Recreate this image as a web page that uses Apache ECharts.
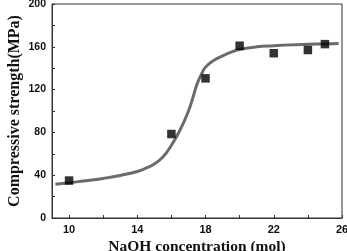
<!DOCTYPE html>
<html>
<head>
<meta charset="utf-8">
<script src="https://cdn.jsdelivr.net/npm/echarts@6/dist/echarts.min.js"></script>
<style>html,body{margin:0;padding:0;background:#fff}#c{width:347px;height:251px}</style>
</head>
<body>
<div id="c"></div>
<script>
var naohMol = [10, 16, 18, 20, 22, 24, 25];
var strength = [35, 78.5, 130.5, 161, 154, 157, 162.5];
var fitX = [9.2, 10, 11, 12, 13, 14, 14.5, 15, 15.5, 16, 16.5, 17, 17.25, 17.5, 17.75, 18, 18.5, 19, 19.5, 20, 21, 22, 23, 24, 25, 25.8];
var fitY = [31.5, 33, 34.8, 37, 39.8, 43.5, 46.5, 50.5, 57, 68, 82, 100, 112, 125, 134, 141, 147.5, 151.5, 155, 157.5, 160, 161, 161.8, 162.3, 162.7, 163];
var xLabelTicks = [10, 14, 18, 22, 26];
var xTicks = [10, 12, 14, 16, 18, 20, 22, 24, 26];
var yLabelTicks = [0, 40, 80, 120, 160, 200];
var yTicks = [0, 20, 40, 60, 80, 100, 120, 140, 160, 180, 200];

var chart = echarts.init(document.getElementById('c'));
var labX = {color: '#111', fontFamily: 'Liberation Sans, Arial, sans-serif', fontWeight: 'bold', fontSize: 11};
var labY = {color: '#111', fontFamily: 'Liberation Sans, Arial, sans-serif', fontWeight: 'bold', fontSize: 10.5};
var nameX = {color: '#111', fontFamily: 'Liberation Serif, Times New Roman, serif', fontWeight: 'bold', fontSize: 15.5};
var nameY = {color: '#111', fontFamily: 'Liberation Serif, Times New Roman, serif', fontWeight: 'bold', fontSize: 16};
chart.setOption({
  animation: false,
  grid: {left: 52, right: 5, top: 4, bottom: 33, show: true, borderColor: '#333', borderWidth: 1, outerBoundsMode: 'none', containLabel: false},
  xAxis: {
    type: 'value', min: 9, max: 26,
    name: 'NaOH concentration (mol)', nameLocation: 'middle', nameGap: 21, nameMoveOverlap: false,
    nameTextStyle: nameX,
    axisLine: {show: true, lineStyle: {color: '#333', width: 1}},
    axisTick: {show: true, inside: true, length: 3, customValues: xTicks, lineStyle: {color: '#333'}},
    axisLabel: Object.assign({customValues: xLabelTicks, margin: 6}, labX),
    splitLine: {show: false}
  },
  yAxis: {
    type: 'value', min: 0, max: 200,
    name: 'Compressive strength(MPa)', nameLocation: 'middle', nameGap: 29, nameMoveOverlap: false,
    nameTextStyle: nameY,
    axisLine: {show: true, lineStyle: {color: '#333', width: 1}},
    axisTick: {show: true, inside: true, length: 3, customValues: yTicks, lineStyle: {color: '#333'}},
    axisLabel: Object.assign({customValues: yLabelTicks, margin: 6}, labY),
    splitLine: {show: false}
  },
  series: [
    {
      type: 'line', smooth: true, symbol: 'none',
      data: fitX.map(function (x, i) { return [x, fitY[i]]; }),
      lineStyle: {color: '#6b6b6b', width: 3}, z: 2
    },
    {
      type: 'scatter', symbol: 'rect', symbolSize: 8.5,
      data: naohMol.map(function (x, i) { return [x, strength[i]]; }),
      itemStyle: {color: '#000'}, z: 3
    }
  ]
});
</script>
</body>
</html>
